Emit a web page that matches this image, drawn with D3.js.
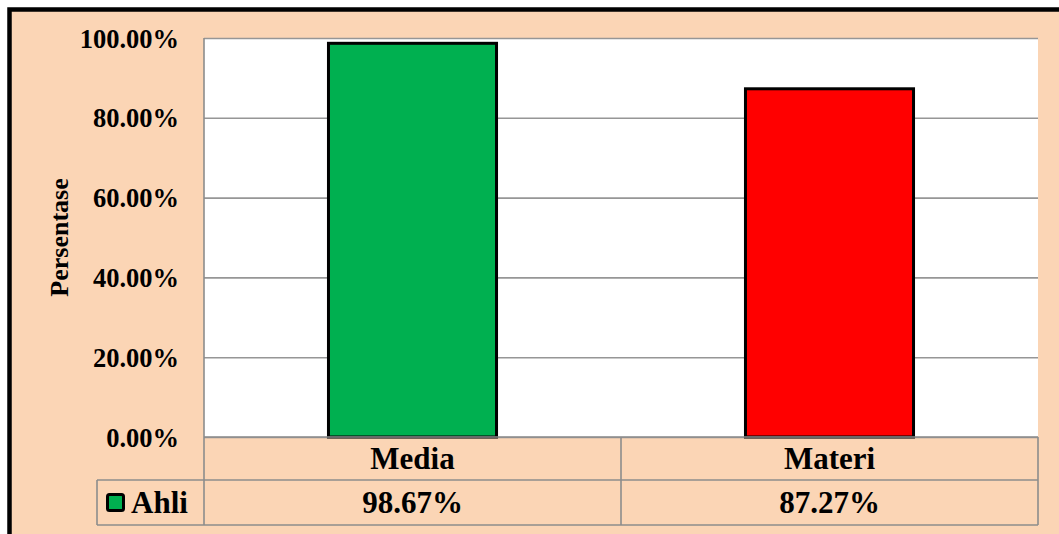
<!DOCTYPE html>
<html>
<head>
<meta charset="utf-8">
<script src="https://cdn.jsdelivr.net/npm/d3@7"></script>
<style>
  body { margin: 0; background: #fff; }
  svg text { font-family: "Liberation Serif", "Times New Roman", serif; font-weight: bold; fill: #000; }
</style>
</head>
<body>
<div id="chart-area"></div>
<script>
// data
var categories = ["Media", "Materi"];
var values = [0.9867, 0.8727];
var barColors = ["#00B050", "#FF0000"];
var seriesName = "Ahli";
var yTicks = [0, 0.2, 0.4, 0.6, 0.8, 1.0];

var W = 1059, H = 534;
var plot = { left: 204, right: 1038, top: 38, bottom: 437 };
var rowH = [437, 480, 525];   // table row edges
var legendLeft = 97;

var svg = d3.select("#chart-area")
    .append("svg")
    .attr("width", W)
    .attr("height", H);

// chart background with thick border (runs off right/bottom edge)
svg.append("rect")
    .attr("x", 9.5)
    .attr("y", 9.5)
    .attr("width", 1100)
    .attr("height", 600)
    .attr("fill", "#FBD5B5")
    .attr("stroke", "#000")
    .attr("stroke-width", 4.5);

// plot area
svg.append("rect")
    .attr("x", plot.left)
    .attr("y", plot.top)
    .attr("width", plot.right - plot.left)
    .attr("height", plot.bottom - plot.top)
    .attr("fill", "#fff");

var xScale = d3.scaleBand()
    .domain(categories)
    .range([plot.left, plot.right])
    .padding(0);

var yScale = d3.scaleLinear()
    .domain([0, 1])
    .range([plot.bottom, plot.top]);

// gridlines
svg.append("g")
    .attr("class", "grid")
    .attr("transform", "translate(" + plot.left + ",0)")
    .call(d3.axisLeft(yScale).tickValues(yTicks).tickSize(-(plot.right - plot.left)).tickFormat(""))
    .call(function (g) {
        g.select(".domain").remove();
        g.selectAll("line").attr("stroke", "#969696").attr("stroke-width", 1.6);
    });

// tick labels
svg.append("g")
    .attr("transform", "translate(" + plot.left + ",0)")
    .call(d3.axisLeft(yScale).tickValues(yTicks).tickSize(0).tickPadding(25).tickFormat(d3.format(".2%")))
    .call(function (g) {
        g.select(".domain").remove();
        g.selectAll("text")
            .attr("font-size", "26.5px")
            .attr("dy", "0.34em")
            .style("font-family", "'Liberation Serif', 'Times New Roman', serif")
            .style("font-weight", "bold");
    });

// y label
svg.append("text")
    .attr("transform", "translate(68," + ((plot.top + plot.bottom) / 2) + ") rotate(-90)")
    .attr("text-anchor", "middle")
    .attr("font-size", "26px")
    .text("Persentase");

// bars
var barFrac = 0.403;
svg.selectAll(".bar")
    .data(categories)
    .enter()
    .append("rect")
    .attr("class", "bar")
    .attr("x", function (d) { return xScale(d) + xScale.bandwidth() * (1 - barFrac) / 2; })
    .attr("y", function (d, i) { return yScale(values[i]); })
    .attr("width", xScale.bandwidth() * barFrac)
    .attr("height", function (d, i) { return plot.bottom - yScale(values[i]); })
    .attr("fill", function (d, i) { return barColors[i]; })
    .attr("stroke", "#000")
    .attr("stroke-width", 3);

// data table lines
var lineColor = "#8c8c8c";
var tbl = svg.append("g").attr("stroke", lineColor).attr("stroke-width", 1.6);
tbl.append("line").attr("x1", plot.left).attr("x2", plot.right).attr("y1", rowH[0]).attr("y2", rowH[0]);
tbl.append("line").attr("x1", legendLeft).attr("x2", plot.right).attr("y1", rowH[1]).attr("y2", rowH[1]);
tbl.append("line").attr("x1", legendLeft).attr("x2", plot.right).attr("y1", rowH[2]).attr("y2", rowH[2]);
tbl.append("line").attr("x1", plot.left).attr("x2", plot.left).attr("y1", plot.top).attr("y2", rowH[2]);
tbl.append("line").attr("x1", legendLeft).attr("x2", legendLeft).attr("y1", rowH[1]).attr("y2", rowH[2]);
categories.forEach(function (c) {
    var xr = xScale(c) + xScale.bandwidth();
    tbl.append("line").attr("x1", xr).attr("x2", xr).attr("y1", rowH[0]).attr("y2", rowH[2]);
});

// table texts
svg.selectAll(".cat-label")
    .data(categories)
    .enter()
    .append("text")
    .attr("class", "cat-label")
    .attr("x", function (d) { return xScale(d) + xScale.bandwidth() / 2; })
    .attr("y", 469)
    .attr("text-anchor", "middle")
    .attr("font-size", "31px")
    .text(function (d) { return d; });

svg.selectAll(".val-label")
    .data(categories)
    .enter()
    .append("text")
    .attr("class", "val-label")
    .attr("x", function (d) { return xScale(d) + xScale.bandwidth() / 2; })
    .attr("y", 513)
    .attr("text-anchor", "middle")
    .attr("font-size", "31px")
    .text(function (d, i) { return d3.format(".2%")(values[i]); });

// legend key
svg.append("rect")
    .attr("x", 107.5)
    .attr("y", 494.5)
    .attr("width", 16)
    .attr("height", 16)
    .attr("rx", 2)
    .attr("fill", barColors[0])
    .attr("stroke", "#000")
    .attr("stroke-width", 3);

svg.append("text")
    .attr("x", 131)
    .attr("y", 513)
    .attr("font-size", "31px")
    .text(seriesName);
</script>
</body>
</html>
